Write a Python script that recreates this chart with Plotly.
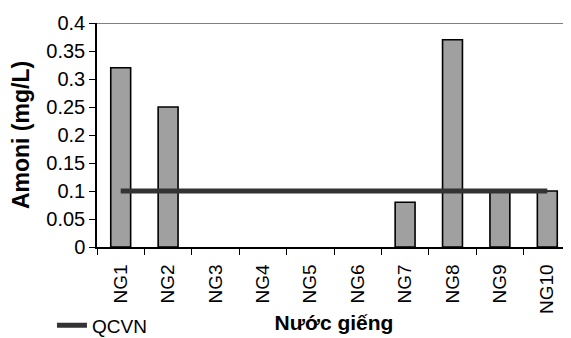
import plotly.graph_objects as go

categories = ["NG1", "NG2", "NG3", "NG4", "NG5", "NG6", "NG7", "NG8", "NG9", "NG10"]
amoni = [0.32, 0.25, 0, 0, 0, 0, 0.08, 0.37, 0.10, 0.10]
qcvn = [0.1] * len(categories)
y_ticks = [0, 0.05, 0.1, 0.15, 0.2, 0.25, 0.3, 0.35, 0.4]
y_tick_text = ["0", "0.05", "0.1", "0.15", "0.2", "0.25", "0.3", "0.35", "0.4"]

FONT = "Liberation Sans, Arial, sans-serif"

fig = go.Figure()
fig.add_trace(go.Bar(
    x=categories, y=amoni, width=0.42,
    marker=dict(color="#a0a0a0",
                line=dict(color="#000000", width=[1.6 if v > 0 else 0 for v in amoni])),
    showlegend=False, name="Amoni",
))
fig.add_trace(go.Scatter(
    x=categories, y=qcvn, mode="lines", name="QCVN",
    line=dict(color="#333333", width=5),
))

# the page body keeps its default 8px margin, so the figure is offset by 8px
fig.update_layout(
    width=571, height=338,
    margin=dict(l=89, r=8, t=15, b=99, autoexpand=False),
    plot_bgcolor="white", paper_bgcolor="white",
    font=dict(family=FONT, size=19, color="#000000"),
    legend=dict(
        orientation="h", x=-0.095, xanchor="left", y=-0.35, yanchor="middle",
        font=dict(family=FONT, size=19, color="#000000"),
        bgcolor="rgba(0,0,0,0)", itemwidth=30,
    ),
    xaxis=dict(
        type="category", tickangle=-90, tickson="boundaries",
        ticks="outside", ticklen=6, tickcolor="#000000", tickwidth=1,
        showline=True, linecolor="#000000", linewidth=1.5,
        showgrid=False, tickfont=dict(size=19), ticklabelstandoff=8,
        title=dict(text="<b>Nước giếng</b>", font=dict(size=21), standoff=2),
        automargin=False,
    ),
    yaxis=dict(
        range=[0, 0.4], tickvals=y_ticks, ticktext=y_tick_text,
        ticks="outside", ticklen=6, tickcolor="#000000", tickwidth=1,
        showline=True, linecolor="#000000", linewidth=1.5,
        showgrid=False, zeroline=False, tickfont=dict(size=20),
        title=dict(text="<b>Amoni (mg/L)</b>", font=dict(size=23), standoff=12),
        automargin=False,
    ),
)
fig.add_shape(type="line", xref="paper", yref="y", x0=0, x1=1, y0=0.4, y1=0.4,
              line=dict(color="#808080", width=2))

fig.write_html("out.html")
